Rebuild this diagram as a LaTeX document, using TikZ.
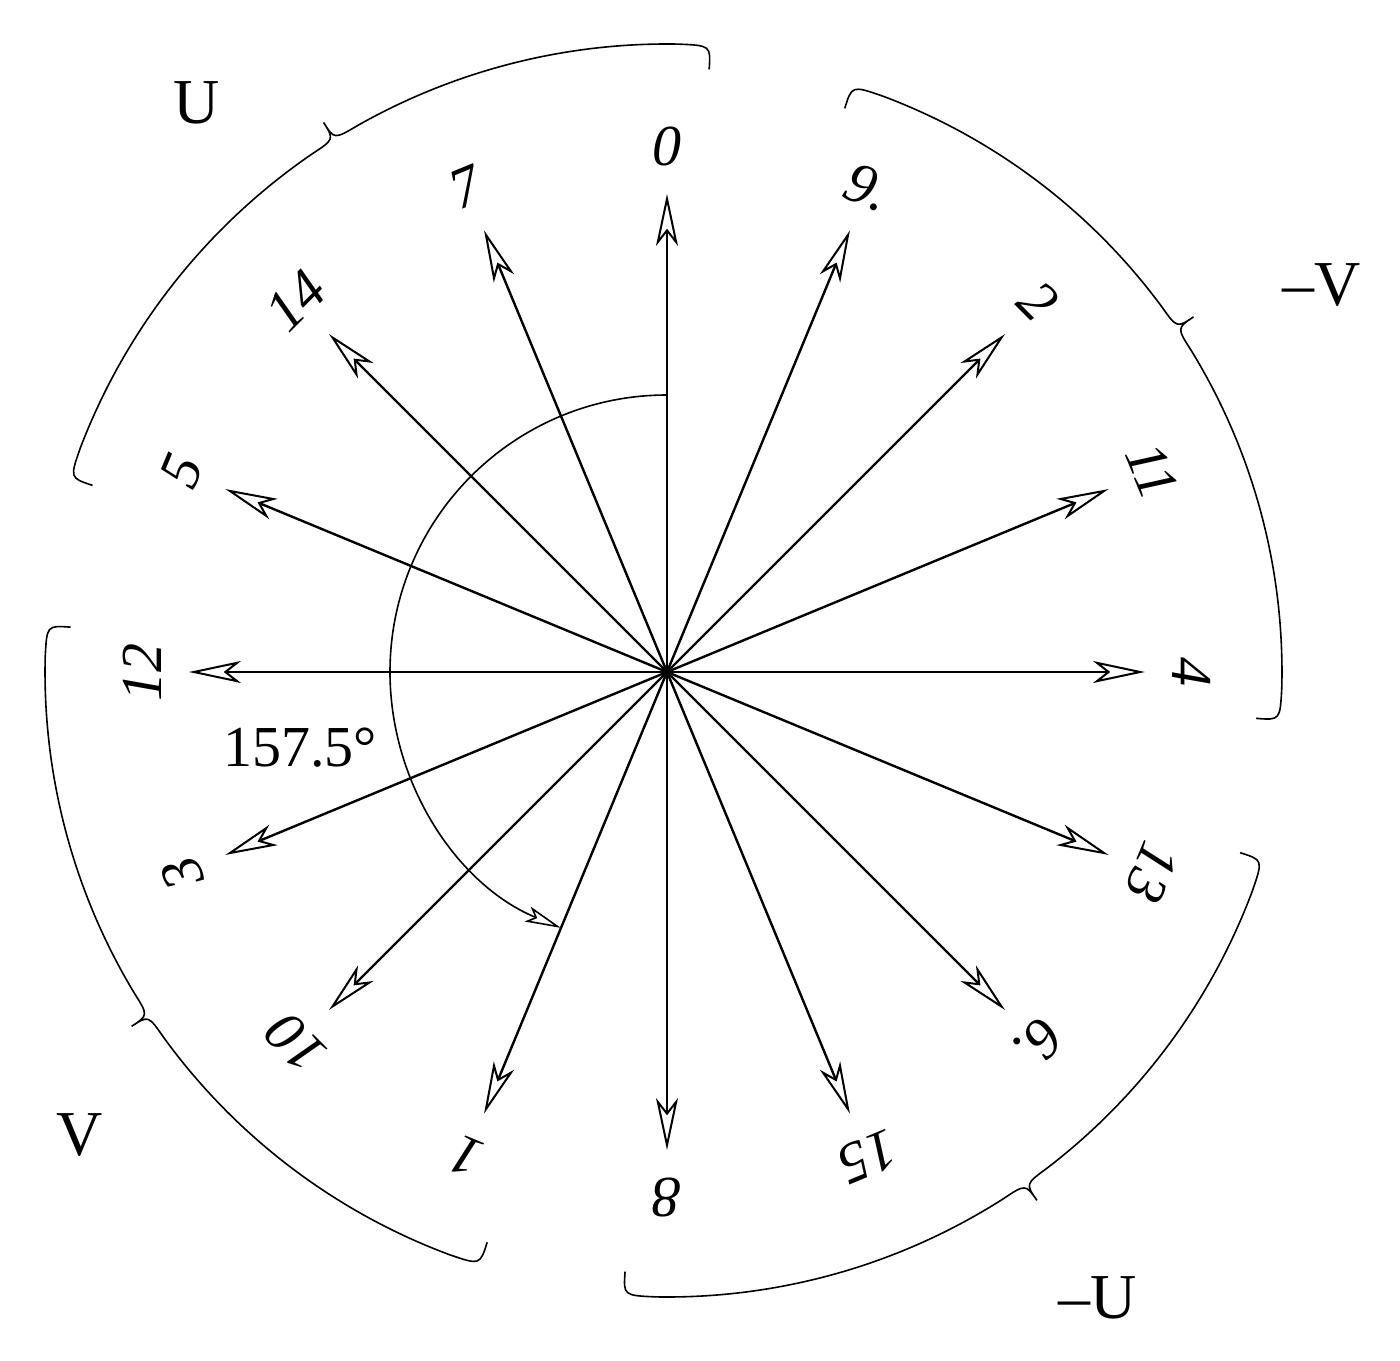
\documentclass[tikz,border=0pt]{standalone}
\usepackage{fontspec}
\setmainfont{Liberation Serif}
\usetikzlibrary{arrows.meta}
\begin{document}
\begin{tikzpicture}[x=1pt,y=1pt,
  vec/.style={line width=2.4pt,-{Stealth[length=52pt,width=22pt,inset=14pt,open,line width=2pt]}},
  brace/.style={line width=1.6pt},
  lab/.style={font=\fontsize{58}{60}\selectfont\itshape,inner sep=0pt},
  grp/.style={font=\fontsize{64}{66}\selectfont,inner sep=0pt}]
\useasboundingbox (-667,-688) rectangle (733,672);
\coordinate (c) at (0,0);
\foreach \a/\t [count=\i] in {90/0,67.5/9.,45/2,22.5/11,0/4,-22.5/13,-45/6.,-67.5/15,-90/8,-112.5/1,-135/10,-157.5/3,180/12,157.5/5,135/14,112.5/7}{
  \coordinate (e\i) at (\a:478);
  \draw[vec] (c) -- (e\i);
  \node[lab,rotate=\a-90] (l\i) at (\a:525) {\t};
}
% angle arc
\coordinate (s) at (90:277);
\draw[line width=1.6pt,-{Stealth[length=36pt,width=16pt,inset=8pt,open,fill=white]}] (s) arc[start angle=90,end angle=247.5,radius=277];
\node[grp,font=\fontsize{58}{60}\selectfont] (ang) at (-367,-76) {157.5°};
% braces
\newcommand{\brc}[4]{%
 \draw[brace] (#1:#4-24) .. controls (#1:#4) and (#1:#4) .. (#1-3:#4)
   arc[start angle=#1-3,end angle=#3+2.5,radius=#4]
   .. controls (#3:#4) and (#3:#4) .. (#3:#4+20)
   .. controls (#3:#4) and (#3:#4) .. (#3-2.5:#4)
   arc[start angle=#3-2.5,end angle=#2+3,radius=#4]
   .. controls (#2:#4) and (#2:#4) .. (#2:#4-24);}
\brc{162}{86}{122}{628}
\brc{72.5}{-4.5}{34}{615}
\brc{-17.5}{-94}{-55}{625}
\brc{-107.5}{-184.3}{-146.5}{622}
\node[grp] (gU) at (-470,569) {U};
\node[grp] (gmV) at (655,387) {–V};
\node[grp] (gmU) at (431,-626) {–U};
\node[grp] (gV) at (-587,-463) {V};
\end{tikzpicture}
\end{document}
